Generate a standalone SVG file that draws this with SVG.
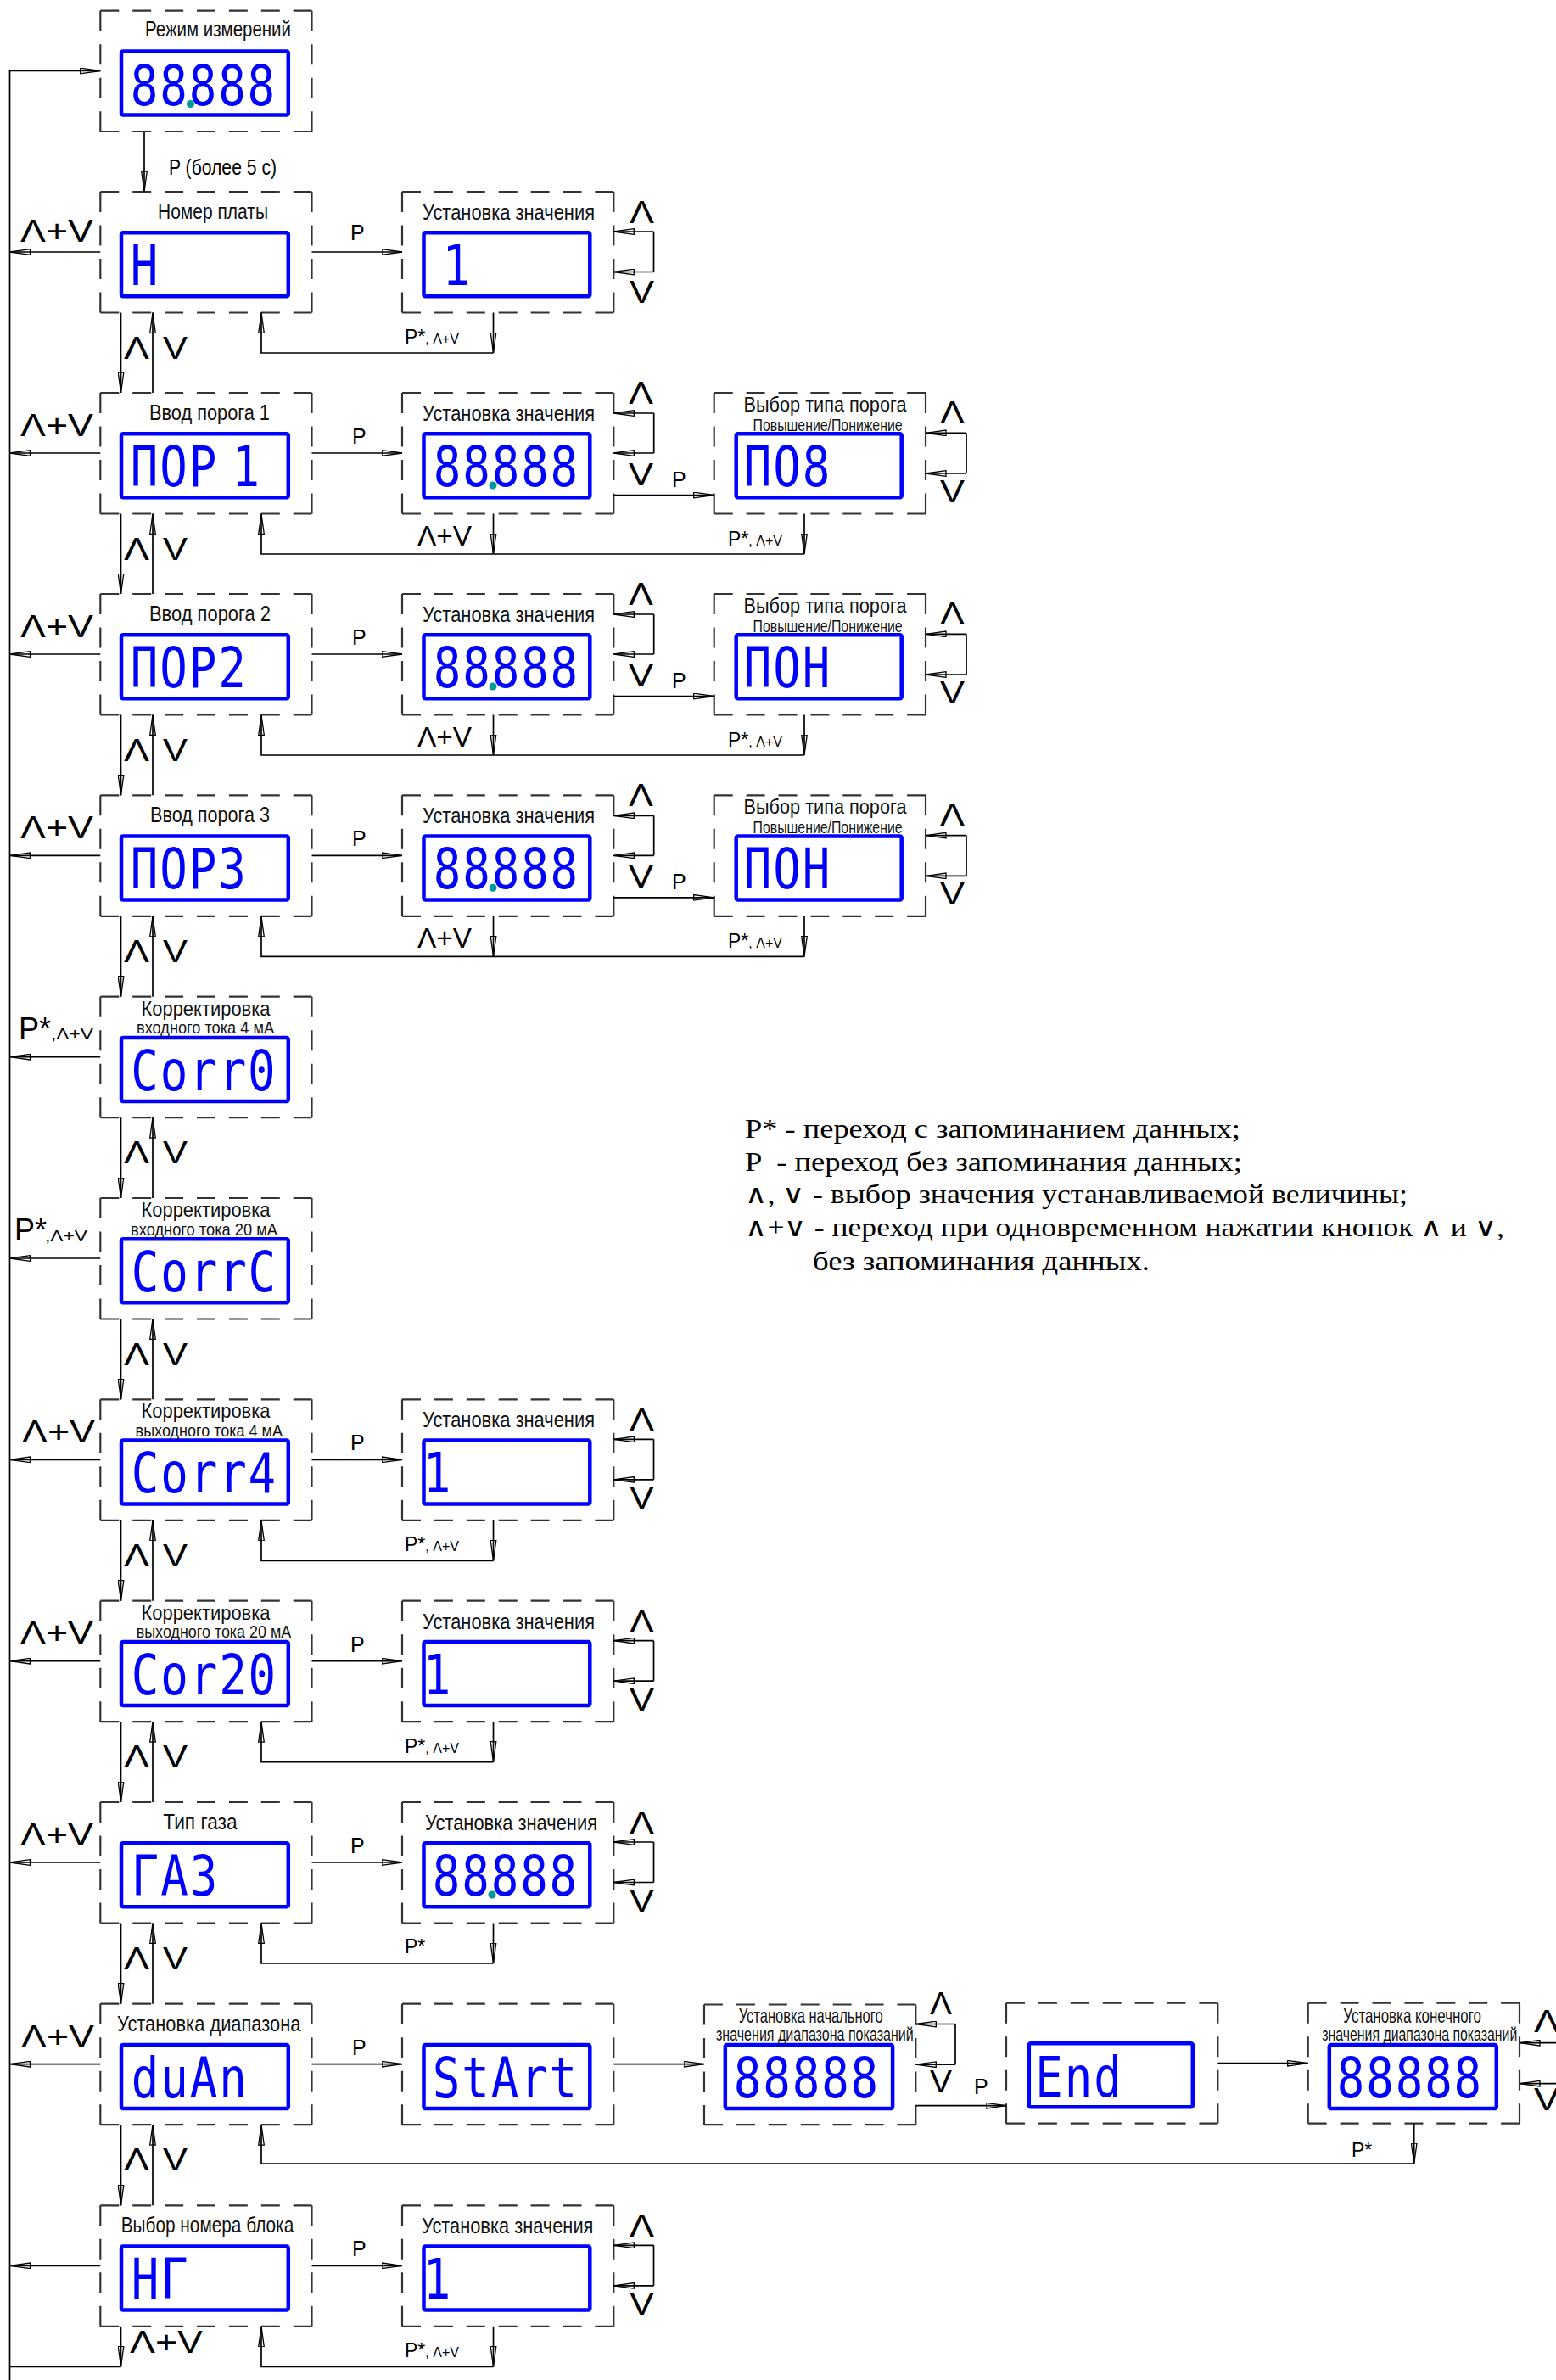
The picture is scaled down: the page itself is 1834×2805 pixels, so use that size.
<svg xmlns="http://www.w3.org/2000/svg" width="1834" height="2805" viewBox="0 0 1834 2805">
<defs>
<style>
.bx{fill:none;stroke:#333;stroke-width:2.2}
.dh{stroke-dasharray:22 15.9}
.dv{stroke-dasharray:24 15.5}
.lcd{fill:none;stroke:#0000ff;stroke-width:4.5}
.dig{fill:#0000ff;font-family:"DejaVu Sans Mono","Liberation Mono",monospace;font-size:66px}
.dot{fill:#009999}
.t{fill:#111;font-family:"Liberation Sans",Arial,sans-serif;font-size:26px}
.t2{font-size:23px}
.t3{font-size:21px}
.s{fill:#000;font-family:"Liberation Sans",Arial,sans-serif;font-size:37px}
.lbl{fill:#000;font-family:"Liberation Sans",Arial,sans-serif;font-size:25px}
.c{fill:none;stroke:#000;stroke-width:1.7}
.a{marker-end:url(#ah)}
.leg{font-family:"Liberation Serif","Times New Roman",serif;font-size:31px;fill:#000}
</style>
<marker id="ah" markerUnits="userSpaceOnUse" viewBox="0 0 25 8" refX="24.5" refY="4" markerWidth="25" markerHeight="8" orient="auto"><path d="M0.5,0.7 L24.5,4 L0.5,7.3 Z" fill="none" stroke="#000" stroke-width="1.3"/></marker>
</defs>
<rect width="1834" height="2805" fill="#fff"/>

<!-- NODES -->
<g id="n-mode">
<path class="bx dh" d="M118.3,12.7H367.5M118.3,155H367.5"/><path class="bx dv" d="M118.3,12.7V155M367.5,12.7V155"/>
<rect class="lcd" x="143" y="60.5" width="196.8" height="75" rx="2"/>
<text class="t" transform="translate(171,43.3) scale(0.78,1)" textLength="220.5" lengthAdjust="spacingAndGlyphs">Режим измерений</text>
<text class="dig" transform="translate(153,123.5) scale(0.82,1)" x="1 43 85 127 169" y="0">88888</text>
<circle class="dot" cx="224.5" cy="122.5" r="4.5"/>
</g>

<g id="n-r1a">
<path class="bx dh" d="M118.3,226H367.5M118.3,368.5H367.5"/><path class="bx dv" d="M118.3,226V368.5M367.5,226V368.5"/>
<rect class="lcd" x="143" y="274.3" width="196.8" height="75" rx="2"/>
<text class="t" transform="translate(186,258) scale(0.8,1)" textLength="162.5" lengthAdjust="spacingAndGlyphs">Номер платы</text>
<text class="dig" transform="translate(153,336) scale(0.82,1)" x="1" y="0">Н</text>
</g>
<g id="n-r1b">
<path class="bx dh" d="M474,226H723.3M474,368.5H723.3"/><path class="bx dv" d="M474,226V368.5M723.3,226V368.5"/>
<rect class="lcd" x="499.5" y="274.3" width="195.8" height="75" rx="2"/>
<text class="t" transform="translate(498,259) scale(0.833,1)" textLength="243.7" lengthAdjust="spacingAndGlyphs">Установка значения</text>
<text class="dig" transform="translate(497,336) scale(0.82,1)" x="30" y="0">1</text>
</g>

<g id="n-r2a">
<path class="bx dh" d="M118.3,463H367.5M118.3,605.5H367.5"/><path class="bx dv" d="M118.3,463V605.5M367.5,463V605.5"/>
<rect class="lcd" x="143" y="511.3" width="196.8" height="75" rx="2"/>
<text class="t" transform="translate(176,495) scale(0.83,1)" textLength="171" lengthAdjust="spacingAndGlyphs">Ввод порога 1</text>
<text class="dig" transform="translate(153,573) scale(0.82,1)" x="1 43 85 147" y="0">ПОР1</text>
</g>
<g id="n-r2b">
<path class="bx dh" d="M474,463H723.3M474,605.5H723.3"/><path class="bx dv" d="M474,463V605.5M723.3,463V605.5"/>
<rect class="lcd" x="499.5" y="511.3" width="195.8" height="75" rx="2"/>
<text class="t" transform="translate(498,496) scale(0.833,1)" textLength="243.7" lengthAdjust="spacingAndGlyphs">Установка значения</text>
<text class="dig" transform="translate(510,573) scale(0.82,1)" x="1 43 85 127 169" y="0">88888</text>
<circle class="dot" cx="581" cy="572" r="4.5"/>
</g>
<g id="n-r2c">
<path class="bx dh" d="M841.7,463H1091M841.7,605.5H1091"/><path class="bx dv" d="M841.7,463V605.5M1091,463V605.5"/>
<rect class="lcd" x="867.7" y="511.3" width="195" height="75" rx="2"/>
<text class="t" transform="translate(876.5,485) scale(0.9,1)" textLength="213.3" lengthAdjust="spacingAndGlyphs" style="font-size:24px">Выбор типа порога</text>
<text class="t" transform="translate(887.6,507.5) scale(0.79,1)" textLength="222.8" lengthAdjust="spacingAndGlyphs" style="font-size:20px">Повышение/Понижение</text>
<text class="dig" transform="translate(876,573) scale(0.82,1)" x="1 43 85" y="0">ПО8</text>
</g>

<g id="n-r3a">
<path class="bx dh" d="M118.3,700H367.5M118.3,842.5H367.5"/><path class="bx dv" d="M118.3,700V842.5M367.5,700V842.5"/>
<rect class="lcd" x="143" y="748.3" width="196.8" height="75" rx="2"/>
<text class="t" transform="translate(176,732) scale(0.83,1)" textLength="172.3" lengthAdjust="spacingAndGlyphs">Ввод порога 2</text>
<text class="dig" transform="translate(153,810) scale(0.82,1)" x="1 43 85 127" y="0">ПОР2</text>
</g>
<g id="n-r3b">
<path class="bx dh" d="M474,700H723.3M474,842.5H723.3"/><path class="bx dv" d="M474,700V842.5M723.3,700V842.5"/>
<rect class="lcd" x="499.5" y="748.3" width="195.8" height="75" rx="2"/>
<text class="t" transform="translate(498,733) scale(0.833,1)" textLength="243.7" lengthAdjust="spacingAndGlyphs">Установка значения</text>
<text class="dig" transform="translate(510,810) scale(0.82,1)" x="1 43 85 127 169" y="0">88888</text>
<circle class="dot" cx="581" cy="809" r="4.5"/>
</g>
<g id="n-r3c">
<path class="bx dh" d="M841.7,700H1091M841.7,842.5H1091"/><path class="bx dv" d="M841.7,700V842.5M1091,700V842.5"/>
<rect class="lcd" x="867.7" y="748.3" width="195" height="75" rx="2"/>
<text class="t" transform="translate(876.5,722) scale(0.9,1)" textLength="213.3" lengthAdjust="spacingAndGlyphs" style="font-size:24px">Выбор типа порога</text>
<text class="t" transform="translate(887.6,744.5) scale(0.79,1)" textLength="222.8" lengthAdjust="spacingAndGlyphs" style="font-size:20px">Повышение/Понижение</text>
<text class="dig" transform="translate(876,810) scale(0.82,1)" x="1 43 85" y="0">ПОН</text>
</g>

<g id="n-r4a">
<path class="bx dh" d="M118.3,937.3H367.5M118.3,1079.8H367.5"/><path class="bx dv" d="M118.3,937.3V1079.8M367.5,937.3V1079.8"/>
<rect class="lcd" x="143" y="985.6" width="196.8" height="75" rx="2"/>
<text class="t" transform="translate(177,969.3) scale(0.83,1)" textLength="169.9" lengthAdjust="spacingAndGlyphs">Ввод порога 3</text>
<text class="dig" transform="translate(153,1047.3) scale(0.82,1)" x="1 43 85 127" y="0">ПОР3</text>
</g>
<g id="n-r4b">
<path class="bx dh" d="M474,937.3H723.3M474,1079.8H723.3"/><path class="bx dv" d="M474,937.3V1079.8M723.3,937.3V1079.8"/>
<rect class="lcd" x="499.5" y="985.6" width="195.8" height="75" rx="2"/>
<text class="t" transform="translate(498,970.3) scale(0.833,1)" textLength="243.7" lengthAdjust="spacingAndGlyphs">Установка значения</text>
<text class="dig" transform="translate(510,1047.3) scale(0.82,1)" x="1 43 85 127 169" y="0">88888</text>
<circle class="dot" cx="581" cy="1046.3" r="4.5"/>
</g>
<g id="n-r4c">
<path class="bx dh" d="M841.7,937.3H1091M841.7,1079.8H1091"/><path class="bx dv" d="M841.7,937.3V1079.8M1091,937.3V1079.8"/>
<rect class="lcd" x="867.7" y="985.6" width="195" height="75" rx="2"/>
<text class="t" transform="translate(876.5,959.3) scale(0.9,1)" textLength="213.3" lengthAdjust="spacingAndGlyphs" style="font-size:24px">Выбор типа порога</text>
<text class="t" transform="translate(887.6,981.8) scale(0.79,1)" textLength="222.8" lengthAdjust="spacingAndGlyphs" style="font-size:20px">Повышение/Понижение</text>
<text class="dig" transform="translate(876,1047.3) scale(0.82,1)" x="1 43 85" y="0">ПОН</text>
</g>

<g id="n-r5a">
<path class="bx dh" d="M118.3,1174.7H367.5M118.3,1317.2H367.5"/><path class="bx dv" d="M118.3,1174.7V1317.2M367.5,1174.7V1317.2"/>
<rect class="lcd" x="143" y="1223" width="196.8" height="75" rx="2"/>
<text class="t t2" transform="translate(166.5,1196.7) scale(0.94,1)" textLength="161.7" lengthAdjust="spacingAndGlyphs">Корректировка</text>
<text class="t t3" transform="translate(161,1218.2) scale(0.86,1)" textLength="188.4" lengthAdjust="spacingAndGlyphs">входного тока 4 мА</text>
<text class="dig" transform="translate(153.5,1284.7) scale(0.82,1)" x="1 43 85 127 169" y="0">Corr0</text>
</g>

<g id="n-r6a">
<path class="bx dh" d="M118.3,1412H367.5M118.3,1554.5H367.5"/><path class="bx dv" d="M118.3,1412V1554.5M367.5,1412V1554.5"/>
<rect class="lcd" x="143" y="1460.3" width="196.8" height="75" rx="2"/>
<text class="t t2" transform="translate(166.5,1434) scale(0.94,1)" textLength="161.7" lengthAdjust="spacingAndGlyphs">Корректировка</text>
<text class="t t3" transform="translate(154,1455.5) scale(0.866,1)" textLength="199.8" lengthAdjust="spacingAndGlyphs">входного тока 20 мА</text>
<text class="dig" transform="translate(154,1522) scale(0.82,1)" x="1 43 85 127 169" y="0">CorrC</text>
</g>

<g id="n-r7a">
<path class="bx dh" d="M118.3,1649.3H367.5M118.3,1791.8H367.5"/><path class="bx dv" d="M118.3,1649.3V1791.8M367.5,1649.3V1791.8"/>
<rect class="lcd" x="143" y="1697.6" width="196.8" height="75" rx="2"/>
<text class="t t2" transform="translate(166.5,1671.3) scale(0.94,1)" textLength="161.7" lengthAdjust="spacingAndGlyphs">Корректировка</text>
<text class="t t3" transform="translate(159.6,1692.8) scale(0.854,1)" textLength="203" lengthAdjust="spacingAndGlyphs">выходного тока 4 мА</text>
<text class="dig" transform="translate(154,1759.3) scale(0.82,1)" x="1 43 85 127 169" y="0">Corr4</text>
</g>
<g id="n-r7b">
<path class="bx dh" d="M474,1649.3H723.3M474,1791.8H723.3"/><path class="bx dv" d="M474,1649.3V1791.8M723.3,1649.3V1791.8"/>
<rect class="lcd" x="499.5" y="1697.6" width="195.8" height="75" rx="2"/>
<text class="t" transform="translate(498,1682.3) scale(0.833,1)" textLength="243.7" lengthAdjust="spacingAndGlyphs">Установка значения</text>
<text class="dig" transform="translate(497,1759.3) scale(0.82,1)" x="2" y="0">1</text>
</g>

<g id="n-r8a">
<path class="bx dh" d="M118.3,1886.7H367.5M118.3,2029.2H367.5"/><path class="bx dv" d="M118.3,1886.7V2029.2M367.5,1886.7V2029.2"/>
<rect class="lcd" x="143" y="1935" width="196.8" height="75" rx="2"/>
<text class="t t2" transform="translate(166.5,1908.7) scale(0.94,1)" textLength="161.7" lengthAdjust="spacingAndGlyphs">Корректировка</text>
<text class="t t3" transform="translate(160.7,1930.2) scale(0.85,1)" textLength="214.8" lengthAdjust="spacingAndGlyphs">выходного тока 20 мА</text>
<text class="dig" transform="translate(154,1996.7) scale(0.82,1)" x="1 43 85 127 169" y="0">Cor20</text>
</g>
<g id="n-r8b">
<path class="bx dh" d="M474,1886.7H723.3M474,2029.2H723.3"/><path class="bx dv" d="M474,1886.7V2029.2M723.3,1886.7V2029.2"/>
<rect class="lcd" x="499.5" y="1935" width="195.8" height="75" rx="2"/>
<text class="t" transform="translate(498,1919.7) scale(0.833,1)" textLength="243.7" lengthAdjust="spacingAndGlyphs">Установка значения</text>
<text class="dig" transform="translate(497,1996.7) scale(0.82,1)" x="2" y="0">1</text>
</g>

<g id="n-r9a">
<path class="bx dh" d="M118.3,2124H367.5M118.3,2266.5H367.5"/><path class="bx dv" d="M118.3,2124V2266.5M367.5,2124V2266.5"/>
<rect class="lcd" x="143" y="2172.3" width="196.8" height="75" rx="2"/>
<text class="t" transform="translate(192.3,2156) scale(0.856,1)" textLength="102" lengthAdjust="spacingAndGlyphs">Тип газа</text>
<text class="dig" transform="translate(154,2234) scale(0.82,1)" x="1 43 85" y="0">ГАЗ</text>
</g>
<g id="n-r9b">
<path class="bx dh" d="M474,2124H723.3M474,2266.5H723.3"/><path class="bx dv" d="M474,2124V2266.5M723.3,2124V2266.5"/>
<rect class="lcd" x="499.5" y="2172.3" width="195.8" height="75" rx="2"/>
<text class="t" transform="translate(501,2157) scale(0.833,1)" textLength="243.7" lengthAdjust="spacingAndGlyphs">Установка значения</text>
<text class="dig" transform="translate(509,2234) scale(0.82,1)" x="1 43 85 127 169" y="0">88888</text>
<circle class="dot" cx="580" cy="2233" r="4.5"/>
</g>

<g id="n-r10a">
<path class="bx dh" d="M118.3,2361.7H367.5M118.3,2504.2H367.5"/><path class="bx dv" d="M118.3,2361.7V2504.2M367.5,2361.7V2504.2"/>
<rect class="lcd" x="143" y="2410" width="196.8" height="75" rx="2"/>
<text class="t" transform="translate(138,2393.7) scale(0.832,1)" textLength="260.1" lengthAdjust="spacingAndGlyphs">Установка диапазона</text>
<text class="dig" transform="translate(154,2471.7) scale(0.82,1)" x="1 43 85 127" y="0">duAn</text>
</g>
<g id="n-r10b">
<path class="bx dh" d="M474,2361.7H723.3M474,2504.2H723.3"/><path class="bx dv" d="M474,2361.7V2504.2M723.3,2361.7V2504.2"/>
<rect class="lcd" x="499.5" y="2410" width="195.8" height="75" rx="2"/>
<text class="dig" transform="translate(509,2471.7) scale(0.82,1)" x="1 43 85 127 169" y="0">StArt</text>
</g>
<g id="n-r10c">
<path class="bx dh" d="M830,2362.5H1079.3M830,2504.2H1079.3"/><path class="bx dv" d="M830,2362.5V2504.2M1079.3,2362.5V2504.2"/>
<rect class="lcd" x="854.8" y="2410" width="197.3" height="75" rx="2"/>
<text class="t t2" transform="translate(870.7,2384) scale(0.71,1)" textLength="239.4" lengthAdjust="spacingAndGlyphs">Установка начального</text>
<text class="t" transform="translate(844,2405) scale(0.728,1)" textLength="319.6" lengthAdjust="spacingAndGlyphs" style="font-size:22px">значения диапазона показаний</text>
<text class="dig" transform="translate(864,2471.7) scale(0.82,1)" x="1 43 85 127 169" y="0">88888</text>
</g>
<g id="n-r10d">
<path class="bx dh" d="M1186,2360.7H1435.3M1186,2502.7H1435.3"/><path class="bx dv" d="M1186,2360.7V2502.7M1435.3,2360.7V2502.7"/>
<rect class="lcd" x="1212.8" y="2408.3" width="193" height="75" rx="2"/>
<text class="dig" transform="translate(1219.5,2470.5) scale(0.82,1)" x="1 43 85" y="0">End</text>
</g>
<g id="n-r10e">
<path class="bx dh" d="M1541.7,2360.7H1791M1541.7,2502.7H1791"/><path class="bx dv" d="M1541.7,2360.7V2502.7M1791,2360.7V2502.7"/>
<rect class="lcd" x="1566.8" y="2410" width="197" height="75" rx="2"/>
<text class="t t2" transform="translate(1583.3,2383.5) scale(0.726,1)" textLength="224.1" lengthAdjust="spacingAndGlyphs">Установка конечного</text>
<text class="t" transform="translate(1558.3,2405) scale(0.72,1)" textLength="319.4" lengthAdjust="spacingAndGlyphs" style="font-size:22px">значения диапазона показаний</text>
<text class="dig" transform="translate(1575,2471.7) scale(0.82,1)" x="1 43 85 127 169" y="0">88888</text>
</g>

<g id="n-r11a">
<path class="bx dh" d="M118.3,2599.3H367.5M118.3,2741.8H367.5"/><path class="bx dv" d="M118.3,2599.3V2741.8M367.5,2599.3V2741.8"/>
<rect class="lcd" x="143" y="2647.6" width="196.8" height="75" rx="2"/>
<text class="t" transform="translate(142.7,2631.3) scale(0.8,1)" textLength="254.4" lengthAdjust="spacingAndGlyphs">Выбор номера блока</text>
<text class="dig" transform="translate(154,2709.3) scale(0.82,1)" x="1 43" y="0">НГ</text>
</g>
<g id="n-r11b">
<path class="bx dh" d="M474,2599.3H723.3M474,2741.8H723.3"/><path class="bx dv" d="M474,2599.3V2741.8M723.3,2599.3V2741.8"/>
<rect class="lcd" x="499.5" y="2647.6" width="195.8" height="75" rx="2"/>
<text class="t" transform="translate(497,2632.3) scale(0.833,1)" textLength="243" lengthAdjust="spacingAndGlyphs">Установка значения</text>
<text class="dig" transform="translate(497,2709.3) scale(0.82,1)" x="2" y="0">1</text>
</g>

<!-- CONNECTORS -->
<g id="connectors">
<path class="c a" d="M11.5,2805V83.5H118.3"/>
<path class="c a" d="M170,155V226"/>
<path class="c a" d="M118.3,297H11.5"/>
<path class="c a" d="M118.3,534H11.5"/>
<path class="c a" d="M118.3,771H11.5"/>
<path class="c a" d="M118.3,1008.3H11.5"/>
<path class="c a" d="M118.3,1245.7H11.5"/>
<path class="c a" d="M118.3,1483H11.5"/>
<path class="c a" d="M118.3,1720.3H11.5"/>
<path class="c a" d="M118.3,1957.7H11.5"/>
<path class="c a" d="M118.3,2195H11.5"/>
<path class="c a" d="M118.3,2432.7H11.5"/>
<path class="c a" d="M118.3,2670.3H11.5"/>
<path class="c a" d="M142.5,368.5V463"/><path class="c a" d="M180,463V368.5"/>
<path class="c a" d="M142.5,605.5V700"/><path class="c a" d="M180,700V605.5"/>
<path class="c a" d="M142.5,842.5V937.3"/><path class="c a" d="M180,937.3V842.5"/>
<path class="c a" d="M142.5,1079.8V1174.7"/><path class="c a" d="M180,1174.7V1079.8"/>
<path class="c a" d="M142.5,1317.2V1412"/><path class="c a" d="M180,1412V1317.2"/>
<path class="c a" d="M142.5,1554.5V1649.3"/><path class="c a" d="M180,1649.3V1554.5"/>
<path class="c a" d="M142.5,1791.8V1886.7"/><path class="c a" d="M180,1886.7V1791.8"/>
<path class="c a" d="M142.5,2029.2V2124"/><path class="c a" d="M180,2124V2029.2"/>
<path class="c a" d="M142.5,2266.5V2361.7"/><path class="c a" d="M180,2361.7V2266.5"/>
<path class="c a" d="M142.5,2504.2V2599.3"/><path class="c a" d="M180,2599.3V2504.2"/>
<path class="c a" d="M142.5,2741.8V2789.3"/><path class="c" d="M142.5,2789.3H11.5"/>
<path class="c a" d="M367.5,297H474"/>
<path class="c a" d="M367.5,534H474"/>
<path class="c a" d="M367.5,771H474"/>
<path class="c a" d="M367.5,1008.3H474"/>
<path class="c a" d="M367.5,1720.3H474"/>
<path class="c a" d="M367.5,1957.7H474"/>
<path class="c a" d="M367.5,2195H474"/>
<path class="c a" d="M367.5,2432.7H474"/>
<path class="c a" d="M367.5,2670.3H474"/>
<path class="c" d="M770.5,273V320.5"/><path class="c a" d="M770.5,273H723.3"/><path class="c a" d="M770.5,320.5H723.3"/>
<path class="c" d="M770.5,1696.3V1743.8"/><path class="c a" d="M770.5,1696.3H723.3"/><path class="c a" d="M770.5,1743.8H723.3"/>
<path class="c" d="M770.5,1933.7V1981.2"/><path class="c a" d="M770.5,1933.7H723.3"/><path class="c a" d="M770.5,1981.2H723.3"/>
<path class="c" d="M770.5,2171V2218.5"/><path class="c a" d="M770.5,2171H723.3"/><path class="c a" d="M770.5,2218.5H723.3"/>
<path class="c" d="M770.5,2646.3V2693.8"/><path class="c a" d="M770.5,2646.3H723.3"/><path class="c a" d="M770.5,2693.8H723.3"/>
<path class="c" d="M770.7,487V534"/><path class="c a" d="M770.7,487H723.3"/><path class="c a" d="M770.7,534H723.3"/>
<path class="c" d="M770.7,724V771"/><path class="c a" d="M770.7,724H723.3"/><path class="c a" d="M770.7,771H723.3"/>
<path class="c" d="M770.7,961.3V1008.3"/><path class="c a" d="M770.7,961.3H723.3"/><path class="c a" d="M770.7,1008.3H723.3"/>
<path class="c a" d="M723.3,583.5H841.7"/>
<path class="c a" d="M723.3,820.5H841.7"/>
<path class="c a" d="M723.3,1057.8H841.7"/>
<path class="c" d="M1139,510.3V558"/><path class="c a" d="M1139,510.3H1091"/><path class="c a" d="M1139,558H1091"/>
<path class="c" d="M1139,747.3V795"/><path class="c a" d="M1139,747.3H1091"/><path class="c a" d="M1139,795H1091"/>
<path class="c" d="M1139,984.6V1032.3"/><path class="c a" d="M1139,984.6H1091"/><path class="c a" d="M1139,1032.3H1091"/>
<path class="c a" d="M581.5,368.5V416"/><path class="c a" d="M581.5,416H308V368.5"/>
<path class="c a" d="M581.5,605.5V653"/><path class="c a" d="M948,605.5V653"/><path class="c a" d="M948,653H308V605.5"/>
<path class="c a" d="M581.5,842.5V890"/><path class="c a" d="M948,842.5V890"/><path class="c a" d="M948,890H308V842.5"/>
<path class="c a" d="M581.5,1079.8V1127.3"/><path class="c a" d="M948,1079.8V1127.3"/><path class="c a" d="M948,1127.3H308V1079.8"/>
<path class="c a" d="M581.5,1791.8V1839.3"/><path class="c a" d="M581.5,1839.3H308V1791.8"/>
<path class="c a" d="M581.5,2029.2V2076.7"/><path class="c a" d="M581.5,2076.7H308V2029.2"/>
<path class="c a" d="M581.5,2266.5V2314"/><path class="c a" d="M581.5,2314H308V2266.5"/>
<path class="c a" d="M1666.7,2502.7V2550"/><path class="c a" d="M1666.7,2550H308V2504.2"/>
<path class="c a" d="M581.5,2741.8V2789.3"/><path class="c a" d="M581.5,2789.3H308V2741.8"/>
<path class="c a" d="M723.3,2432.7H830"/>
<path class="c" d="M1126,2385.5V2433.2"/><path class="c a" d="M1126,2385.5H1079.3"/><path class="c a" d="M1126,2433.2H1079.3"/>
<path class="c a" d="M1079.3,2481.7H1186"/>
<path class="c a" d="M1435.3,2431.7H1541.7"/>
<path class="c" d="M1845,2407.7V2455.7"/><path class="c a" d="M1845,2407.7H1791"/><path class="c a" d="M1845,2455.7H1791"/>

<text class="lbl" transform="translate(199,206) scale(0.81,1)" textLength="156.8" lengthAdjust="spacingAndGlyphs">P (более 5 с)</text>
<g class="s">
<text x="24" y="285" textLength="86" lengthAdjust="spacingAndGlyphs">Λ+V</text>
<text x="24" y="513.5" textLength="86" lengthAdjust="spacingAndGlyphs">Λ+V</text>
<text x="24" y="750.5" textLength="86" lengthAdjust="spacingAndGlyphs">Λ+V</text>
<text x="24" y="987.8" textLength="86" lengthAdjust="spacingAndGlyphs">Λ+V</text>
<text x="26" y="1700" textLength="86" lengthAdjust="spacingAndGlyphs">Λ+V</text>
<text x="24" y="1937.2" textLength="86" lengthAdjust="spacingAndGlyphs">Λ+V</text>
<text x="24" y="2174.5" textLength="86" lengthAdjust="spacingAndGlyphs">Λ+V</text>
<text x="25" y="2412.5" textLength="86" lengthAdjust="spacingAndGlyphs">Λ+V</text>
<text x="153" y="2772.7" textLength="86" lengthAdjust="spacingAndGlyphs">Λ+V</text>
<text x="22" y="1224.5" style="font-size:36px">P*</text>
<text x="60" y="1224.5" style="font-size:19px" textLength="50" lengthAdjust="spacingAndGlyphs">,Λ+V</text>
<text x="17" y="1461.7" style="font-size:36px">P*</text>
<text x="53" y="1462.5" style="font-size:19px" textLength="50" lengthAdjust="spacingAndGlyphs">,Λ+V</text>
<text x="146" y="422.5" textLength="30" lengthAdjust="spacingAndGlyphs">Λ</text><text x="192" y="422.5" textLength="29" lengthAdjust="spacingAndGlyphs">V</text>
<text x="146" y="659.5" textLength="30" lengthAdjust="spacingAndGlyphs">Λ</text><text x="192" y="659.5" textLength="29" lengthAdjust="spacingAndGlyphs">V</text>
<text x="146" y="896.5" textLength="30" lengthAdjust="spacingAndGlyphs">Λ</text><text x="192" y="896.5" textLength="29" lengthAdjust="spacingAndGlyphs">V</text>
<text x="146" y="1133.8" textLength="30" lengthAdjust="spacingAndGlyphs">Λ</text><text x="192" y="1133.8" textLength="29" lengthAdjust="spacingAndGlyphs">V</text>
<text x="146" y="1371.2" textLength="30" lengthAdjust="spacingAndGlyphs">Λ</text><text x="192" y="1371.2" textLength="29" lengthAdjust="spacingAndGlyphs">V</text>
<text x="146" y="1608.5" textLength="30" lengthAdjust="spacingAndGlyphs">Λ</text><text x="192" y="1608.5" textLength="29" lengthAdjust="spacingAndGlyphs">V</text>
<text x="146" y="1845.8" textLength="30" lengthAdjust="spacingAndGlyphs">Λ</text><text x="192" y="1845.8" textLength="29" lengthAdjust="spacingAndGlyphs">V</text>
<text x="146" y="2083.2" textLength="30" lengthAdjust="spacingAndGlyphs">Λ</text><text x="192" y="2083.2" textLength="29" lengthAdjust="spacingAndGlyphs">V</text>
<text x="146" y="2320.5" textLength="30" lengthAdjust="spacingAndGlyphs">Λ</text><text x="192" y="2320.5" textLength="29" lengthAdjust="spacingAndGlyphs">V</text>
<text x="146" y="2558.2" textLength="30" lengthAdjust="spacingAndGlyphs">Λ</text><text x="192" y="2558.2" textLength="29" lengthAdjust="spacingAndGlyphs">V</text>
<text x="742" y="263" textLength="29" lengthAdjust="spacingAndGlyphs">Λ</text><text x="742" y="357" textLength="29" lengthAdjust="spacingAndGlyphs">V</text>
<text x="742" y="1686.3" textLength="29" lengthAdjust="spacingAndGlyphs">Λ</text><text x="742" y="1778.3" textLength="29" lengthAdjust="spacingAndGlyphs">V</text>
<text x="742" y="1923.7" textLength="29" lengthAdjust="spacingAndGlyphs">Λ</text><text x="742" y="2015.7" textLength="29" lengthAdjust="spacingAndGlyphs">V</text>
<text x="742" y="2161" textLength="29" lengthAdjust="spacingAndGlyphs">Λ</text><text x="742" y="2253" textLength="29" lengthAdjust="spacingAndGlyphs">V</text>
<text x="742" y="2636.3" textLength="29" lengthAdjust="spacingAndGlyphs">Λ</text><text x="742" y="2728.3" textLength="29" lengthAdjust="spacingAndGlyphs">V</text>
<text x="741" y="475.5" textLength="29" lengthAdjust="spacingAndGlyphs">Λ</text><text x="741" y="571.7" textLength="29" lengthAdjust="spacingAndGlyphs">V</text>
<text x="741" y="712.5" textLength="29" lengthAdjust="spacingAndGlyphs">Λ</text><text x="741" y="808.7" textLength="29" lengthAdjust="spacingAndGlyphs">V</text>
<text x="741" y="949.8" textLength="29" lengthAdjust="spacingAndGlyphs">Λ</text><text x="741" y="1046" textLength="29" lengthAdjust="spacingAndGlyphs">V</text>
<text x="1108" y="499" textLength="29" lengthAdjust="spacingAndGlyphs">Λ</text><text x="1108" y="592" textLength="29" lengthAdjust="spacingAndGlyphs">V</text>
<text x="1108" y="736" textLength="29" lengthAdjust="spacingAndGlyphs">Λ</text><text x="1108" y="829" textLength="29" lengthAdjust="spacingAndGlyphs">V</text>
<text x="1108" y="973.3" textLength="29" lengthAdjust="spacingAndGlyphs">Λ</text><text x="1108" y="1066.3" textLength="29" lengthAdjust="spacingAndGlyphs">V</text>
<text x="1096" y="2373.5" textLength="26" lengthAdjust="spacingAndGlyphs">Λ</text><text x="1096" y="2466" textLength="26" lengthAdjust="spacingAndGlyphs">V</text>
<text x="1808" y="2395" textLength="30" lengthAdjust="spacingAndGlyphs">Λ</text><text x="1808" y="2486.7" textLength="30" lengthAdjust="spacingAndGlyphs">V</text>
<text x="492" y="643" style="font-size:34px" textLength="64" lengthAdjust="spacingAndGlyphs">Λ+V</text>
<text x="492" y="880" style="font-size:34px" textLength="64" lengthAdjust="spacingAndGlyphs">Λ+V</text>
<text x="492" y="1117.2" style="font-size:34px" textLength="64" lengthAdjust="spacingAndGlyphs">Λ+V</text>
</g>
<g class="lbl">
<text x="413" y="283">P</text>
<text x="415" y="523">P</text>
<text x="415" y="760">P</text>
<text x="415" y="997.3">P</text>
<text x="413" y="1709.3">P</text>
<text x="413" y="1946.7">P</text>
<text x="413" y="2184">P</text>
<text x="415" y="2421.7">P</text>
<text x="415" y="2659.3">P</text>
<text x="792" y="574">P</text>
<text x="792" y="811">P</text>
<text x="792" y="1048.3">P</text>
<text x="1148" y="2468">P</text>
<text x="477" y="405"><tspan style="font-size:23px">P*</tspan><tspan style="font-size:16px">, Λ+V</tspan></text>
<text x="858" y="643"><tspan style="font-size:23px">P*</tspan><tspan style="font-size:16px">, Λ+V</tspan></text>
<text x="858" y="880"><tspan style="font-size:23px">P*</tspan><tspan style="font-size:16px">, Λ+V</tspan></text>
<text x="858" y="1117.2"><tspan style="font-size:23px">P*</tspan><tspan style="font-size:16px">, Λ+V</tspan></text>
<text x="477" y="1828.4"><tspan style="font-size:23px">P*</tspan><tspan style="font-size:16px">, Λ+V</tspan></text>
<text x="477" y="2065.8"><tspan style="font-size:23px">P*</tspan><tspan style="font-size:16px">, Λ+V</tspan></text>
<text x="477" y="2301.5" style="font-size:23px">P*</text>
<text x="1593" y="2542" style="font-size:23px">P*</text>
<text x="477" y="2778.4"><tspan style="font-size:23px">P*</tspan><tspan style="font-size:16px">, Λ+V</tspan></text>
</g>
</g>

<!-- LEGEND -->
<g id="legend" class="leg">
<text x="878" y="1341" textLength="584" lengthAdjust="spacingAndGlyphs">P* - переход с запоминанием данных;</text>
<text x="878" y="1380" textLength="586" lengthAdjust="spacingAndGlyphs" xml:space="preserve">P  - переход без запоминания данных;</text>
<text x="878" y="1418.3" textLength="781" lengthAdjust="spacingAndGlyphs">∧, ∨ - выбор значения устанавливаемой величины;</text>
<text x="878" y="1456.7" textLength="895" lengthAdjust="spacingAndGlyphs">∧+∨ - переход при одновременном нажатии кнопок ∧ и ∨,</text>
<text x="958" y="1496.7" textLength="397" lengthAdjust="spacingAndGlyphs">без запоминания данных.</text>
</g>
</svg>
